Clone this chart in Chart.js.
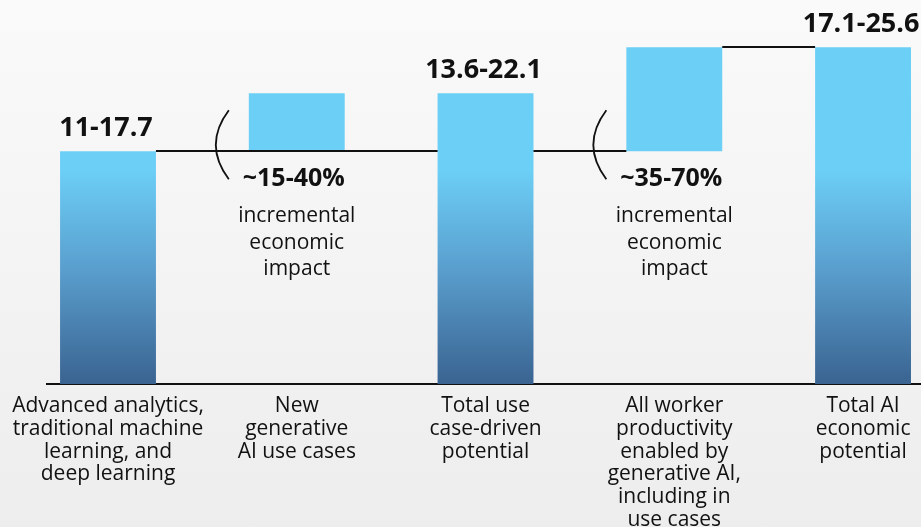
<!DOCTYPE html>
<html>
<head>
<meta charset="utf-8">
<script src="https://cdn.jsdelivr.net/npm/chart.js@4"></script>
<style>
  html, body { margin: 0; padding: 0; }
  body { width: 921px; height: 527px; overflow: hidden; background: linear-gradient(#fafafa, #eeedee); }
  #wrap { width: 921px; height: 527px; position: relative; }
</style>
</head>
<body>
<div id="wrap"><canvas id="my-chart"></canvas></div>
<script>
const categories = [
  ["Advanced analytics,", "traditional machine", "learning, and", "deep learning"],
  ["New", "generative", "AI use cases"],
  ["Total use", "case-driven", "potential"],
  ["All worker", "productivity", "enabled by", "generative AI,", "including in", "use cases"],
  ["Total AI", "economic", "potential"],
];
const barStart = [0, 17.7, 0, 17.7, 0];
const barEnd = [17.7, 22.1, 22.1, 25.6, 25.6];
const isTotal = [true, false, true, false, true];
const valueLabels = ["11-17.7", "", "13.6-22.1", "", "17.1-25.6"];
const incrementLabels = ["", "~15-40%", "", "~35-70%", ""];
const incrementNote = ["incremental", "economic", "impact"];
// connector lines: [from bar, to bar, level]
const connectors = [[0, 2, 17.7], [2, 3, 17.7], [3, 4, 25.6]];

const LIGHT = "#6ccff6";
const FONT = "'Open Sans', sans-serif";

// gradient for the total bars, light at the top, dark at the baseline
const barColor = (ctx) => {
  const i = ctx.dataIndex;
  if (!isTotal[i]) return LIGHT;
  const { chart } = ctx;
  if (!chart.chartArea) return LIGHT;
  const y = chart.scales.y;
  const g = chart.ctx.createLinearGradient(0, y.getPixelForValue(16.3), 0, y.getPixelForValue(0));
  g.addColorStop(0, LIGHT);
  g.addColorStop(0.45, "#5aa0cf");
  g.addColorStop(1, "#3a6391");
  return g;
};

// connectors, value labels and the bracketed notes
const annotations = {
  id: "annotations",
  afterDatasetsDraw(chart) {
    const c = chart.ctx;
    const bars = chart.getDatasetMeta(0).data;
    const y = chart.scales.y;
    c.save();
    c.strokeStyle = "#111";
    c.lineWidth = 2;
    connectors.forEach(([a, b, v]) => {
      const py = Math.round(y.getPixelForValue(v));
      c.beginPath();
      c.moveTo(bars[a].x + bars[a].width / 2, py);
      c.lineTo(bars[b].x - bars[b].width / 2, py);
      c.stroke();
    });

    c.fillStyle = "#111";
    c.textAlign = "center";
    c.textBaseline = "alphabetic";
    bars.forEach((bar, i) => {
      if (valueLabels[i]) {
        c.font = "bold 27px " + FONT;
        c.fillText(valueLabels[i], bar.x - 2, y.getPixelForValue(barEnd[i]) - 15);
      }
      if (incrementLabels[i]) {
        const base = y.getPixelForValue(barStart[i]);
        const left = bar.x - bar.width / 2;
        c.font = "bold 25px " + FONT;
        c.fillText(incrementLabels[i], bar.x - 3, base + 35);
        c.font = "21px " + FONT;
        incrementNote.forEach((t, k) => c.fillText(t, bar.x, base + 71 + k * 26.5));
        c.lineWidth = 1.8;
        c.beginPath();
        c.moveTo(left - 20, base - 41);
        c.quadraticCurveTo(left - 46, base - 6.5, left - 20, base + 28);
        c.stroke();
      }
    });
    c.restore();
  },
};

const ctx = document.getElementById("my-chart").getContext("2d");
const myChart = new Chart(ctx, {
  type: "bar",
  data: {
    datasets: [
      {
        data: barStart.map((s, i) => ({ x: i, y: [s, barEnd[i]] })),
        backgroundColor: barColor,
        borderWidth: 0,
        categoryPercentage: 0.508,
        barPercentage: 1,
      },
    ],
  },
  options: {
    responsive: true,
    maintainAspectRatio: false,
    animation: false,
    layout: { padding: { left: 47, right: 0, top: 0, bottom: 0 } },
    plugins: { legend: { display: false }, tooltip: { enabled: false } },
    scales: {
      x: {
        type: "linear",
        offset: false,
        min: -0.3232,
        max: 4.307,
        grid: { display: false },
        border: { display: true, color: "#111", width: 2 },
        afterBuildTicks: (s) => {
          s.ticks = categories.map((_, i) => ({ value: i }));
        },
        afterFit: (s) => {
          s.height = 143;
          s.paddingLeft = 0;
          s.paddingRight = 0;
        },
        ticks: {
          autoSkip: false,
          maxRotation: 0,
          padding: 3,
          color: "#111",
          font: { family: FONT, size: 21, lineHeight: 1.08 },
          callback: (v) => categories[v],
        },
      },
      y: { display: false, min: 0, max: 29.2 },
    },
  },
  plugins: [annotations],
});
</script>
</body>
</html>
